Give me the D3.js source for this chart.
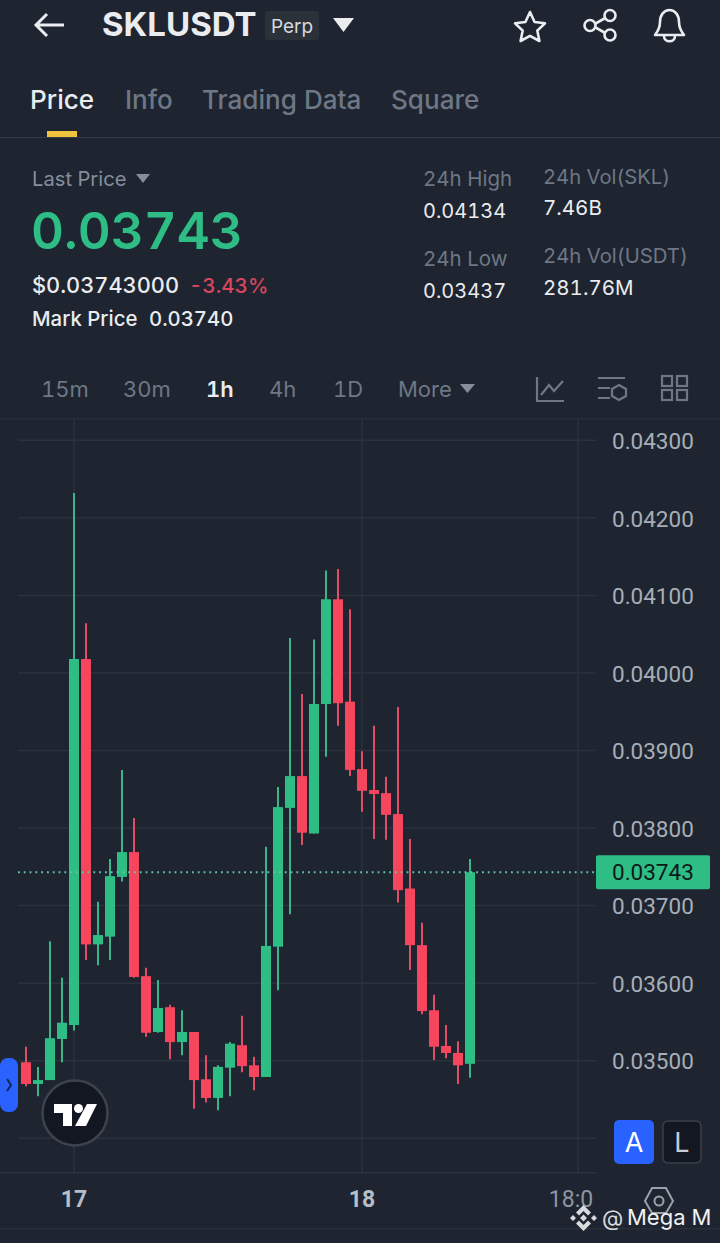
<!DOCTYPE html>
<html>
<head>
<meta charset="utf-8">
<script src="https://cdn.jsdelivr.net/npm/d3@7"></script>
<style>
  html, body { margin: 0; padding: 0; background: #1e2530; }
  svg { display: block; font-family: Inter, Roboto, sans-serif; font-variant-numeric: tabular-nums; }
</style>
</head>
<body>
<svg id="chart" width="720" height="1243"></svg>
<script>
// candles, one hour each
const opens = [0.03498,0.03470,0.03475,0.03528,0.03546,0.04018,0.03650,0.03660,0.03737,0.03769,0.03609,0.03537,0.03569,0.03524,0.03537,0.03476,0.03452,0.03491,0.03520,0.03494,0.03479,0.03647,0.03826,0.03867,0.03793,0.03960,0.04095,0.03963,0.03876,0.03849,0.03845,0.03818,0.03722,0.03649,0.03565,0.03519,0.03510,0.03496]
const highs = [0.03518,0.03492,0.03654,0.03607,0.04232,0.04064,0.03705,0.03760,0.03875,0.03813,0.03620,0.03604,0.03572,0.03565,0.03537,0.03507,0.03494,0.03524,0.03558,0.03505,0.03776,0.03853,0.04045,0.03973,0.04043,0.04132,0.04134,0.04082,0.03899,0.03932,0.03866,0.03956,0.03786,0.03678,0.03585,0.03546,0.03525,0.03760]
const lows = [0.03467,0.03454,0.03475,0.03498,0.03539,0.03630,0.03623,0.03630,0.03731,0.03607,0.03531,0.03536,0.03502,0.03507,0.03438,0.03446,0.03436,0.03454,0.03485,0.03462,0.03479,0.03591,0.03689,0.03778,0.03793,0.03892,0.03932,0.03867,0.03821,0.03786,0.03785,0.03704,0.03617,0.03560,0.03501,0.03503,0.03470,0.03478]
const closes = [0.03470,0.03475,0.03529,0.03549,0.04018,0.03650,0.03662,0.03738,0.03769,0.03608,0.03536,0.03568,0.03524,0.03537,0.03475,0.03452,0.03492,0.03522,0.03493,0.03479,0.03648,0.03827,0.03867,0.03794,0.03960,0.04095,0.03961,0.03875,0.03848,0.03844,0.03817,0.03720,0.03649,0.03564,0.03518,0.03510,0.03494,0.03743]

// axis ticks
const priceTicks = [0.043,0.042,0.041,0.04,0.039,0.038,0.037,0.036,0.035,0.034]
const timeTicks = [4, 28, 46]
const timeLabels = ['17', '18', '18:0']
const lastPrice = 0.03743

// header texts
const tabs = ['Price', 'Info', 'Trading Data', 'Square']
const intervals = ['15m', '30m', '1h', '4h', '1D', 'More']

const green = '#2ebd85'
const red = '#f6465d'
const grid = '#2b323c'
const muted = '#848e9c'
const white = '#eaecef'

const svg = d3.select('#chart')

// scales, one candle every 12px
const x = d3.scaleLinear().domain([0, 37]).range([26, 470])
const y = d3.scaleLinear().domain([0.035, 0.043]).range([1060.7, 440.3])

// small helper for all the page text
function label(str, px, py, size, fill, weight, anchor) {
  return svg.append('text')
    .text(str)
    .attr('x', px)
    .attr('y', py)
    .attr('font-size', size)
    .attr('fill', fill)
    .attr('font-weight', weight || 400)
    .attr('text-anchor', anchor || 'start')
}

// ---- chart ----
// horizontal grid, drawn with the axis
const yAxis = d3.axisRight(y)
  .tickValues(priceTicks)
  .tickSize(578)
  .offset(0)
  .tickFormat(d3.format('.5f'))
const yGroup = svg.append('g')
  .attr('transform', 'translate(18,0)')
  .call(yAxis)
yGroup.select('.domain').remove()
yGroup.selectAll('line').attr('stroke', grid).attr('stroke-width', 1.5)
yGroup.selectAll('text')
  .attr('x', 594)
  .attr('dy', '0.39em')
  .attr('font-size', 22.5)
  .attr('font-family', 'Roboto, sans-serif')
  .attr('fill', '#a7aeb8')
// 0.03400 sits under the buttons in the original, only its line shows
yGroup.selectAll('.tick').filter(d => d === 0.034).select('text').remove()

// vertical grid and the time labels
const xAxis = d3.axisBottom(x)
  .tickValues(timeTicks)
  .tickSize(-754)
  .tickPadding(18)
  .offset(0)
  .tickFormat((d, i) => timeLabels[i])
const xGroup = svg.append('g')
  .attr('transform', 'translate(0,1173)')
  .call(xAxis)
xGroup.select('.domain').remove()
xGroup.selectAll('line').attr('stroke', grid).attr('stroke-width', 1.5)
xGroup.selectAll('text')
  .attr('font-size', 23)
  .attr('font-family', 'Roboto, sans-serif')
  .attr('font-weight', (d, i) => i < 2 ? 700 : 400)
  .attr('fill', (d, i) => i < 2 ? '#b7bdc6' : '#8d95a1')
xGroup.selectAll('.tick').filter(d => d === 46).select('text').attr('dx', -7)

// candles
const candles = d3.range(opens.length)
const isUp = i => closes[i] >= opens[i]
svg.append('g').selectAll('line')
  .data(candles)
  .enter()
  .append('line')
  .attr('x1', x)
  .attr('x2', x)
  .attr('y1', i => y(highs[i]))
  .attr('y2', i => y(lows[i]))
  .attr('stroke', i => isUp(i) ? '#3ab58a' : '#e24e65')
  .attr('stroke-width', 2)
svg.append('g').selectAll('rect')
  .data(candles)
  .enter()
  .append('rect')
  .attr('x', i => x(i) - 5)
  .attr('width', 10)
  .attr('y', i => y(Math.max(opens[i], closes[i])))
  .attr('height', i => Math.max(1, Math.abs(y(opens[i]) - y(closes[i]))))
  .attr('fill', i => isUp(i) ? green : red)

// last price line and tag
svg.append('line')
  .attr('x1', 18)
  .attr('x2', 596)
  .attr('y1', y(lastPrice))
  .attr('y2', y(lastPrice))
  .attr('stroke', '#5fc7a4')
  .attr('stroke-width', 1.8)
  .attr('stroke-dasharray', '1.8 4')
svg.append('rect')
  .attr('x', 596)
  .attr('y', y(lastPrice) - 17)
  .attr('width', 114)
  .attr('height', 34)
  .attr('rx', 2)
  .attr('fill', green)
label(d3.format('.5f')(lastPrice), 612, y(lastPrice) + 8, 22.5, '#0d1a1a')
  .attr('font-family', 'Roboto, sans-serif')

// ---- top bar ----
svg.append('path')
  .attr('d', 'M64 25H37M47 14L36 25L47 36')
  .attr('fill', 'none').attr('stroke', white).attr('stroke-width', 3)
label('SKLUSDT', 102, 36, 33, white, 700)
svg.append('rect').attr('x', 265).attr('y', 11).attr('width', 54).attr('height', 29).attr('rx', 3).attr('fill', '#2b3139')
label('Perp', 271, 33, 19, '#d5d9de')
svg.append('path').attr('d', 'M333 18H354L343.5 32Z').attr('fill', white)
// star, share, bell
svg.append('path')
  .attr('d', 'M530 12L534.6 22L545 23.3L537.3 30.6L539.4 41L530 35.8L520.6 41L522.7 30.6L515 23.3L525.4 22Z')
  .attr('fill', 'none').attr('stroke', white).attr('stroke-width', 2.6).attr('stroke-linejoin', 'round')
svg.append('path').attr('d', 'M607 17L592 25.5L607 34').attr('fill', 'none').attr('stroke', white).attr('stroke-width', 2.6)
svg.selectAll('.share').data([[610, 15.5], [590, 25.5], [610, 35]]).enter().append('circle')
  .attr('cx', d => d[0]).attr('cy', d => d[1]).attr('r', 5.5)
  .attr('fill', '#1e2530').attr('stroke', white).attr('stroke-width', 2.6)
svg.append('path')
  .attr('d', 'M655 35H684C680 30 679 27 679 22C679 15 675 10 669.5 10C664 10 660 15 660 22C660 27 659 30 655 35ZM664 36C664 43 675 43 675 36')
  .attr('fill', 'none').attr('stroke', white).attr('stroke-width', 2.6).attr('stroke-linejoin', 'round')

// tabs
const tabX = [30, 125, 202, 391]
tabs.forEach((t, i) => {
  label(t, tabX[i], 109, 26.1, i === 0 ? white : '#6e7785', 500)
})
svg.append('rect').attr('x', 47).attr('y', 131).attr('width', 30).attr('height', 6).attr('fill', '#f0c33c')
svg.append('rect').attr('x', 0).attr('y', 137).attr('width', 720).attr('height', 1).attr('fill', '#343b46')

// ---- ticker block ----
label('Last Price', 32, 186, 20.2, muted)
svg.append('path').attr('d', 'M136 174H150L143 183Z').attr('fill', muted)
label('0.03743', 31, 249, 51, green, 600)
label('$0.03743000', 32, 293, 21.8, white, 500)
label('-3.43%', 189, 293, 20.6, '#d8465b', 500)
label('Mark Price', 32, 326, 20.4, white, 500)
label('0.03740', 149, 326, 20.3, white, 500)

label('24h High', 423, 186, 20.5, '#6e7785')
label('0.04134', 423, 218, 20, white)
label('24h Low', 423, 266, 20.5, '#6e7785')
label('0.03437', 423, 298, 20, white)
label('24h Vol(SKL)', 543, 184, 20.2, '#6e7785')
label('7.46B', 543, 215, 20.5, white)
label('24h Vol(USDT)', 543, 263, 20.3, '#6e7785')
label('281.76M', 543, 295, 20.5, white)

// ---- interval row ----
const intervalX = [41, 123, 206, 269, 333, 398]
intervals.forEach((t, i) => {
  label(t, intervalX[i], 397, 22, i === 2 ? white : '#6e7785', i === 2 ? 600 : 400)
})
svg.append('path').attr('d', 'M460 384H475L467.5 393Z').attr('fill', muted)
svg.append('path')
  .attr('d', 'M537 377V401H564M541 395L549 385L554 391L563 381')
  .attr('fill', 'none').attr('stroke', '#6e7785').attr('stroke-width', 2.2)
svg.append('path')
  .attr('d', 'M598 378H625M598 388H610M598 398H610M619 385L626 389V396L619 400L612 396V389Z')
  .attr('fill', 'none').attr('stroke', '#6e7785').attr('stroke-width', 2.2)
svg.selectAll('.cell').data([[662, 376], [677, 376], [662, 390], [677, 390]]).enter().append('rect')
  .attr('x', d => d[0]).attr('y', d => d[1]).attr('width', 10).attr('height', 10)
  .attr('fill', 'none').attr('stroke', '#6e7785').attr('stroke-width', 2.2)
svg.append('rect').attr('x', 0).attr('y', 418).attr('width', 720).attr('height', 1.5).attr('fill', '#292f39')

// ---- chart furniture ----
svg.append('rect').attr('x', 0).attr('y', 1058).attr('width', 18).attr('height', 54).attr('rx', 8).attr('fill', '#2962ff')
svg.append('path').attr('d', 'M7 1079L11 1085L7 1091').attr('fill', 'none').attr('stroke', '#16264f').attr('stroke-width', 2)

// tradingview badge
svg.append('circle').attr('cx', 75).attr('cy', 1113).attr('r', 32.5).attr('fill', '#131722').attr('stroke', '#3d434d').attr('stroke-width', 2.5)
svg.append('path').attr('d', 'M54 1104H72V1126H63V1113H54Z').attr('fill', '#fff')
svg.append('circle').attr('cx', 78.5).attr('cy', 1108.5).attr('r', 4.5).attr('fill', '#fff')
svg.append('path').attr('d', 'M87 1104H97L86 1126H75Z').attr('fill', '#fff')

// A and L buttons
svg.append('rect').attr('x', 614).attr('y', 1120).attr('width', 40).attr('height', 44).attr('rx', 5).attr('fill', '#2962ff')
label('A', 634, 1152, 27, '#fff', 400, 'middle')
svg.append('rect').attr('x', 663).attr('y', 1121).attr('width', 38).attr('height', 42).attr('rx', 5).attr('fill', '#131722').attr('stroke', '#3a404a').attr('stroke-width', 1.5)
label('L', 682, 1152, 27, '#c8ccd2', 400, 'middle')

// bottom lines
svg.append('rect').attr('x', 0).attr('y', 1172).attr('width', 597).attr('height', 1.5).attr('fill', grid)
svg.append('rect').attr('x', 0).attr('y', 1228).attr('width', 720).attr('height', 1.5).attr('fill', '#292f39')

// settings hexagon
svg.append('path').attr('d', 'M652 1188H666L673 1201L666 1213H652L645 1201Z').attr('fill', 'none').attr('stroke', '#9aa1ab').attr('stroke-width', 2)
svg.append('circle').attr('cx', 659).attr('cy', 1201).attr('r', 4.5).attr('fill', 'none').attr('stroke', '#9aa1ab').attr('stroke-width', 2)

// watermark
svg.append('path')
  .attr('d', 'M583.5 1205L591 1212.5L588 1215.5L583.5 1211L579 1215.5L576 1212.5ZM583.5 1231L591 1223.5L588 1220.5L583.5 1225L579 1220.5L576 1223.5ZM583.5 1214.5L587 1218L583.5 1221.5L580 1218ZM573 1215L576 1218L573 1221L570 1218ZM594 1215L597 1218L594 1221L591 1218Z')
  .attr('fill', '#d8dadd')
label('@', 602, 1226, 22, '#d8dadd')
label('Mega M', 627, 1225, 22, '#f2f2f2')
</script>
</body>
</html>
